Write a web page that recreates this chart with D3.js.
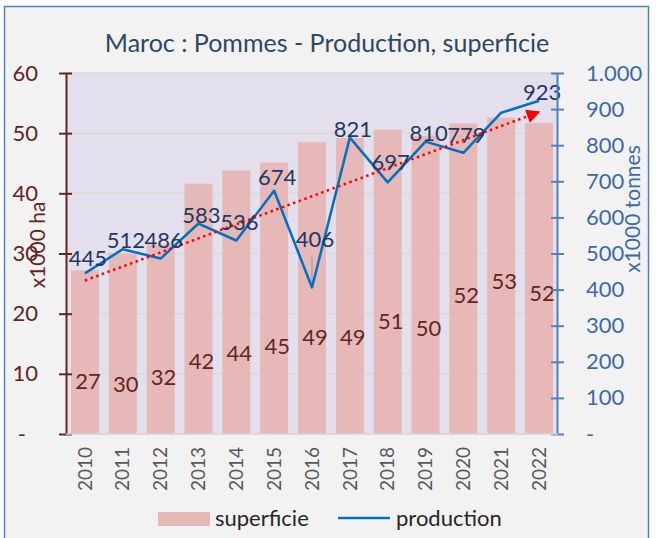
<!DOCTYPE html>
<html lang="fr">
<head>
    <meta charset="UTF-8">
    <title>Maroc : Pommes - Production, superficie</title>
    <style>
        body {
            margin: 0;
            padding: 0;
            background: #ffffff;
            font-family: Lato, "Open Sans", sans-serif;
        }
    </style>
</head>
<body>
    <div id="chart"></div>

    <script src="https://d3js.org/d3.v7.min.js"></script>
    <script>
        // data
        var years = ["2010", "2011", "2012", "2013", "2014", "2015", "2016",
                     "2017", "2018", "2019", "2020", "2021", "2022"];
        var superficie = [27.2, 30.0, 31.5, 41.6, 43.8, 45.1, 48.5, 49.2, 50.6, 49.6, 51.6, 52.6, 51.7];
        var production = [445, 512, 486, 583, 536, 674, 406, 821, 697, 810, 779, 890, 923];
        // which production points carry a label (2021 has none in the original)
        var productionLabelled = [true, true, true, true, true, true, true, true, true, true, true, false, true];
        // height (in x1000 ha) where the bar labels sit, as hand-placed in the original
        var superficieLabelAt = [8.7, 8.2, 9.5, 12.1, 13.4, 14.6, 16.0, 16.0, 18.8, 17.6, 23.0, 25.4, 23.4];
        var leftTicks = [0, 10, 20, 30, 40, 50, 60];
        var rightTicks = [0, 100, 200, 300, 400, 500, 600, 700, 800, 900, 1000];

        var W = 656, H = 538;
        var plot = { left: 66, right: 558, top: 73, bottom: 434 };
        // pixel gap between a production point and its label baseline
        var labelGap = { "2010": 7, "2012": 11, "2014": 11, "2015": 6, "2016": 40, "2018": 12, "2020": 10 };

        var svg = d3.select("#chart").append("svg")
            .attr("width", W)
            .attr("height", H);

        // chart frame
        svg.append("rect")
            .attr("x", 4.5).attr("y", 6.5)
            .attr("width", 644).attr("height", 540)
            .attr("fill", "#f2f2f2")
            .attr("stroke", "#4f81bd")
            .attr("stroke-width", 1.5);

        var x = d3.scaleBand()
            .domain(years)
            .range([plot.left, plot.right])
            .paddingInner(0.26)
            .paddingOuter(0.13);

        var yLeft = d3.scaleLinear().domain([0, 60]).range([plot.bottom, plot.top]);
        var yRight = d3.scaleLinear().domain([0, 1000]).range([plot.bottom, plot.top]);

        var cx = function(i) { return x(years[i]) + x.bandwidth() / 2; };

        // plot area
        svg.append("rect")
            .attr("x", plot.left).attr("y", plot.top)
            .attr("width", plot.right - plot.left)
            .attr("height", plot.bottom - plot.top)
            .attr("fill", "#e4dfec");

        // gridlines
        svg.append("g")
            .selectAll("line")
            .data(leftTicks)
            .enter().append("line")
            .attr("x1", plot.left).attr("x2", plot.right)
            .attr("y1", d => yLeft(d)).attr("y2", d => yLeft(d))
            .attr("stroke", "#d9d9d9")
            .attr("stroke-width", 1.5);

        // bars
        svg.append("g")
            .selectAll("rect")
            .data(superficie)
            .enter().append("rect")
            .attr("x", (d, i) => x(years[i]))
            .attr("width", x.bandwidth())
            .attr("y", d => yLeft(d))
            .attr("height", d => plot.bottom - yLeft(d))
            .attr("fill", "#e6b9b8");

        // bar labels
        svg.append("g")
            .selectAll("text")
            .data(superficie)
            .enter().append("text")
            .attr("x", (d, i) => cx(i) + 3)
            .attr("y", (d, i) => yLeft(superficieLabelAt[i]))
            .attr("dy", "0.35em")
            .attr("text-anchor", "middle")
            .attr("fill", "#632523")
            .attr("font-size", "22px")
            .text(d => Math.round(d));

        // little grey stub under the 2016 dip (present in the original)
        svg.append("line")
            .attr("x1", cx(6)).attr("x2", cx(6))
            .attr("y1", yRight(406)).attr("y2", yRight(490))
            .attr("stroke", "#a6a6a6")
            .attr("stroke-width", 1.5);

        // production line
        var line = d3.line()
            .x((d, i) => cx(i))
            .y(d => yRight(d));

        svg.append("path")
            .datum(production)
            .attr("d", line)
            .attr("fill", "none")
            .attr("stroke", "#0070c0")
            .attr("stroke-width", 2.5)
            .attr("stroke-linejoin", "round");

        // linear trend of production (least squares)
        var n = production.length;
        var mx = d3.mean(production, (d, i) => i);
        var my = d3.mean(production);
        var slope = d3.sum(production, (d, i) => (i - mx) * (d - my)) /
                    d3.sum(production, (d, i) => (i - mx) * (i - mx));
        var icpt = my - slope * mx;
        var t0 = [cx(0), yRight(icpt)];
        var t1 = [cx(n - 1), yRight(icpt + slope * (n - 1))];

        svg.append("defs").append("marker")
            .attr("id", "arrow")
            .attr("viewBox", "0 0 10 10")
            .attr("refX", 9).attr("refY", 5)
            .attr("markerWidth", 7).attr("markerHeight", 5.5)
            .attr("markerUnits", "strokeWidth")
            .attr("orient", "auto")
            .append("path")
            .attr("d", "M0,0 L10,5 L0,10 Z")
            .attr("fill", "#ff0000");

        svg.append("line")
            .attr("x1", t0[0]).attr("y1", t0[1])
            .attr("x2", t1[0]).attr("y2", t1[1])
            .attr("stroke", "#ff0000")
            .attr("stroke-width", 2.5)
            .attr("stroke-dasharray", "2.5,3.5")
            .attr("marker-end", "url(#arrow)");

        // production labels
        svg.append("g")
            .selectAll("text")
            .data(production.map((d, i) => ({ v: d, i: i })).filter(d => productionLabelled[d.i]))
            .enter().append("text")
            .attr("x", d => cx(d.i) + 3)
            .attr("y", d => yRight(d.v) - (labelGap[years[d.i]] || 1))
            .attr("text-anchor", "middle")
            .attr("fill", "#1f3864")
            .attr("font-size", "22px")
            .text(d => d.v);

        // left axis
        var leftAxis = svg.append("g")
            .attr("transform", "translate(" + plot.left + ",0)")
            .call(d3.axisLeft(yLeft)
                .tickValues(leftTicks)
                .tickSize(0)
                .tickPadding(28)
                .tickFormat(d => d === 0 ? "-" : d));
        leftAxis.select(".domain").attr("stroke", "#632523").attr("stroke-width", 2);
        leftAxis.selectAll(".tick line")
            .attr("x1", -7).attr("x2", 6)
            .attr("stroke", "#632523").attr("stroke-width", 2);
        leftAxis.selectAll("text")
            .attr("fill", "#632523")
            .attr("font-size", "22px")
            .attr("font-family", "Lato, sans-serif");
        leftAxis.selectAll(".tick text").filter(d => d === 0).attr("x", -40);

        // right axis
        var rightAxis = svg.append("g")
            .attr("transform", "translate(" + (plot.right - 1) + ",0)")
            .call(d3.axisRight(yRight)
                .tickValues(rightTicks)
                .tickSize(0)
                .tickPadding(29)
                .tickFormat(d => d === 0 ? "-" : (d === 1000 ? "1.000" : d)));
        rightAxis.select(".domain").attr("stroke", "#4f81bd").attr("stroke-width", 2);
        rightAxis.selectAll(".tick line")
            .attr("x1", -6).attr("x2", 7)
            .attr("stroke", "#4f81bd").attr("stroke-width", 2);
        rightAxis.selectAll("text")
            .attr("fill", "#3d6aa6")
            .attr("font-size", "22px")
            .attr("font-family", "Lato, sans-serif");

        // x axis: light baseline and rotated years
        svg.append("line")
            .attr("x1", plot.left).attr("x2", plot.right)
            .attr("y1", plot.bottom).attr("y2", plot.bottom)
            .attr("stroke", "#d9d9d9").attr("stroke-width", 1.5);

        svg.append("g")
            .selectAll("text")
            .data(years)
            .enter().append("text")
            .attr("transform", d => "translate(" + (x(d) + x.bandwidth() / 2) + "," + (plot.bottom + 13) + ") rotate(-90)")
            .attr("dy", "0.35em")
            .attr("text-anchor", "end")
            .attr("fill", "#595959")
            .attr("font-size", "19px")
            .text(d => d);

        // axis titles
        svg.append("text")
            .attr("transform", "translate(38,245) rotate(-90)")
            .attr("dy", "0.35em")
            .attr("text-anchor", "middle")
            .attr("fill", "#632523")
            .attr("font-size", "21px")
            .text("x1000 ha");

        svg.append("text")
            .attr("transform", "translate(633,209) rotate(-90)")
            .attr("dy", "0.35em")
            .attr("text-anchor", "middle")
            .attr("fill", "#3d6aa6")
            .attr("font-size", "21px")
            .text("x1000 tonnes");

        // title
        svg.append("text")
            .attr("x", 327).attr("y", 52)
            .attr("text-anchor", "middle")
            .attr("fill", "#2e4766")
            .attr("font-size", "25px")
            .text("Maroc : Pommes - Production, superficie");

        // legend
        var legend = svg.append("g");
        legend.append("rect")
            .attr("x", 158).attr("y", 512)
            .attr("width", 52).attr("height", 14)
            .attr("fill", "#e6b9b8");
        legend.append("text")
            .attr("x", 215).attr("y", 526)
            .attr("fill", "#262626")
            .attr("font-size", "22px")
            .text("superficie");
        legend.append("line")
            .attr("x1", 338).attr("x2", 390)
            .attr("y1", 518).attr("y2", 518)
            .attr("stroke", "#0070c0").attr("stroke-width", 2.5);
        legend.append("text")
            .attr("x", 396).attr("y", 526)
            .attr("fill", "#262626")
            .attr("font-size", "22px")
            .text("production");
    </script>
</body>
</html>
